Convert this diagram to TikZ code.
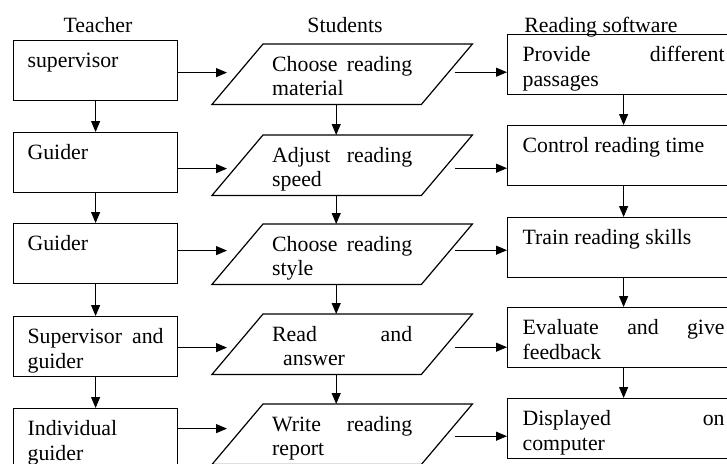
\documentclass[tikz,border=0pt]{standalone}
\usepackage{fontspec}
\setmainfont{Liberation Serif}
\usetikzlibrary{arrows.meta}

\newcommand{\bodyfont}{\fontsize{21.8}{24.5}\selectfont}

\begin{document}
\begin{tikzpicture}[x=1pt,y=-1pt,
  every node/.style={font=\bodyfont},
  cell/.style={inner ysep=0pt, text height=27pt, text depth=33pt, align=justify, anchor=north west},
  teacherbox/.style={cell, draw, line width=1.2pt, inner xsep=14pt, text width=136pt},
  studentbox/.style={cell, inner xsep=34.5pt, text width=140pt},
  softbox/.style={cell, draw, line width=1.2pt, inner xsep=15pt, text width=202pt},
  arr/.style={-{Triangle[length=11pt,width=9pt]}, line width=1.1pt}]
\path[use as bounding box, clip] (0,0) rectangle (727,463);

% column titles
\node[anchor=base] (teacher) at (98,32) {Teacher};
\node[anchor=base] (students) at (345,32) {Students};
\node[anchor=base] (software) at (601,32) {Reading software};

% teacher
\node[teacherbox] (t1) at (13,40) {supervisor};
\node[teacherbox] (t2) at (13,132) {Guider};
\node[teacherbox] (t3) at (13,223) {Guider};
\node[teacherbox] (t4) at (13,316) {Supervisor and\linebreak guider};
\node[teacherbox] (t5) at (13,408) {Individual\\guider};

% students
\node[studentbox] (s1) at (237.5,44) {Choose reading\linebreak material};
\node[studentbox] (s2) at (237.5,135) {Adjust reading\linebreak speed};
\node[studentbox] (s3) at (237.5,224) {Choose reading\linebreak style};
\node[studentbox] (s4) at (237.5,314) {Read and\linebreak \hspace*{11pt}answer};
\node[studentbox] (s5) at (237.5,404) {Write reading\linebreak report};

% reading software
\node[softbox] (r1) at (507,34) {Provide different\linebreak passages};
\node[softbox] (r2) at (507,125) {Control reading time};
\node[softbox] (r3) at (507,217) {Train reading skills};
\node[softbox] (r4) at (507,307) {Evaluate and give\linebreak feedback};
\node[softbox] (r5) at (507,398) {Displayed on\linebreak computer};

% parallelograms
\foreach \i in {1,...,5}
  \draw[line width=1.2pt] ([xshift=25.5pt]s\i.north west) -- ([xshift=25.5pt]s\i.north east)
    -- ([xshift=-25.5pt]s\i.south east) -- ([xshift=-25.5pt]s\i.south west) -- cycle;

% down arrows
\foreach \i [count=\j from 2] in {1,...,4} {
  \draw[arr] (t\i.south) -- (t\j.north);
  \draw[arr] ([xshift=-6pt]s\i.south) -- ([xshift=-6pt]s\j.north);
  \draw[arr] (r\i.south) -- (r\j.north);
}

% across arrows
\foreach \i/\ta/\sa in {1/-2/2, 2/-6/-3, 3/3/4, 4/-1/-3, 5/10/-2} {
  \draw[arr, shorten >=10.5pt] ([yshift=\ta pt]t\i.east) -- ([yshift=\ta pt]t\i.east -| s\i.west);
  \draw[arr, shorten <=8.5pt] ([yshift=\sa pt]s\i.east) -- ([yshift=\sa pt]s\i.east -| r\i.west);
}
\end{tikzpicture}
\end{document}
